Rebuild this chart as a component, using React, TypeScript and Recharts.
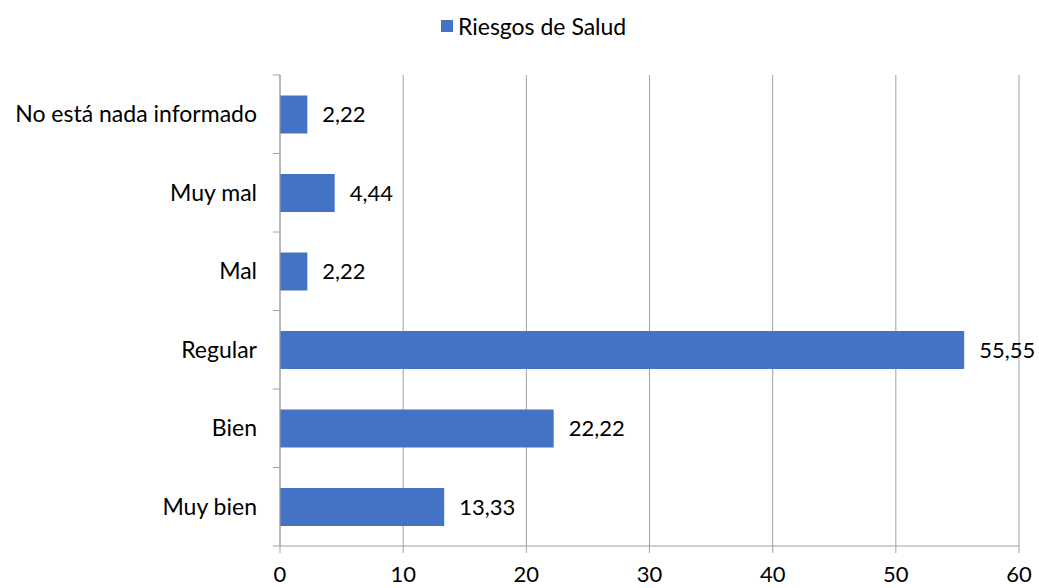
import { BarChart, Bar, XAxis, YAxis, CartesianGrid, LabelList } from 'recharts';

const categories = ['No está nada informado', 'Muy mal', 'Mal', 'Regular', 'Bien', 'Muy bien'];
const values = [2.22, 4.44, 2.22, 55.55, 22.22, 13.33];
const xTicks = [0, 10, 20, 30, 40, 50, 60];
const seriesName = 'Riesgos de Salud';

const data = categories.map((c, i) => ({ name: c, value: values[i] }));

const W = 1039;
const H = 588;
const M = { top: 75, right: 20, bottom: 0, left: 0 };
const X_AXIS_H = 42;
const Y_AXIS_W = 280;
const BAND = (H - M.top - M.bottom - X_AXIS_H) / categories.length;
const FONT = 'Lato, "Open Sans", sans-serif';

function CategoryTick(props: any) {
  const { x, y, payload, index } = props;
  const last = index === categories.length - 1;
  return (
    <g>
      <line x1={x - 7} x2={x} y1={y - BAND / 2} y2={y - BAND / 2} stroke="#a0a0a0" />
      {last && <line x1={x - 7} x2={x} y1={y + BAND / 2} y2={y + BAND / 2} stroke="#a0a0a0" />}
      <text x={x - 23} y={y} dy={8} textAnchor="end" fontSize={23} fill="#000" fontFamily={FONT}>
        {payload.value}
      </text>
    </g>
  );
}

export default function App() {
  return (
    <div style={{ position: 'absolute', left: 0, top: 0, width: W, height: H, background: '#fff' }}>
      {/* legend drawn outside the chart so it doesn't push the plot down */}
      <div
        style={{
          position: 'absolute',
          top: 11,
          left: 441,
          display: 'flex',
          alignItems: 'center',
          fontFamily: FONT,
          fontSize: 23,
          color: '#000',
          lineHeight: '30px',
        }}
      >
        <span style={{ display: 'inline-block', width: 12, height: 12, background: '#4472C4', marginRight: 5 }} />
        <span>{seriesName}</span>
      </div>
      <BarChart width={W} height={H} data={data} layout="vertical" margin={M} barCategoryGap="26%">
        <CartesianGrid horizontal={false} stroke="#a0a0a0" />
        <XAxis
          type="number"
          domain={[0, 60]}
          ticks={xTicks}
          height={X_AXIS_H}
          tickSize={7}
          tickMargin={13}
          stroke="#a0a0a0"
          tick={{ fill: '#000', fontSize: 22, fontFamily: FONT }}
        />
        <YAxis
          type="category"
          dataKey="name"
          width={Y_AXIS_W}
          stroke="#a0a0a0"
          tickLine={false}
          tickSize={0}
          tickMargin={0}
          tick={<CategoryTick />}
          interval={0}
        />
        <Bar dataKey="value" name={seriesName} fill="#4472C4" isAnimationActive={false}>
          <LabelList
            dataKey="value"
            position="right"
            offset={15}
            fill="#000"
            fontSize={22}
            fontFamily={FONT}
            formatter={(v: any) => Number(v).toFixed(2).replace('.', ',')}
          />
        </Bar>
      </BarChart>
    </div>
  );
}
